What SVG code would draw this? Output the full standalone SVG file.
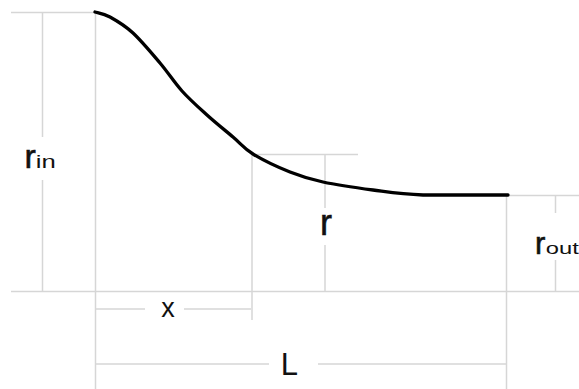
<svg xmlns="http://www.w3.org/2000/svg" width="579" height="389" viewBox="0 0 579 389">
<style>
.g{stroke:#d6d6d6;stroke-width:1.5;fill:none}
.t{font-family:"Liberation Sans",Arial,sans-serif;fill:#111}
.b{stroke:#111;stroke-width:0.6}
</style>
<rect width="579" height="389" fill="#fff"/>
<g id="guides">
<line class="g" x1="11" y1="12.5" x2="95" y2="12.5"/>
<line class="g" x1="42.5" y1="13" x2="42.5" y2="137"/>
<line class="g" x1="42.5" y1="180" x2="42.5" y2="291.5"/>
<line class="g" x1="95.5" y1="12" x2="95.5" y2="389"/>
<line class="g" x1="11" y1="291.5" x2="579" y2="291.5"/>
<line class="g" x1="252" y1="154.5" x2="358" y2="154.5"/>
<line class="g" x1="252" y1="154" x2="252" y2="320"/>
<line class="g" x1="325" y1="155" x2="325" y2="208"/>
<line class="g" x1="325" y1="245" x2="325" y2="291.5"/>
<line class="g" x1="506.5" y1="195" x2="506.5" y2="389"/>
<line class="g" x1="508" y1="195.5" x2="579" y2="195.5"/>
<line class="g" x1="555.5" y1="196" x2="555.5" y2="213"/>
<line class="g" x1="555.5" y1="260" x2="555.5" y2="291.5"/>
<line class="g" x1="96" y1="309" x2="145" y2="309"/>
<line class="g" x1="184" y1="309" x2="251" y2="309"/>
<line class="g" x1="96" y1="364" x2="269" y2="364"/>
<line class="g" x1="318" y1="364" x2="507" y2="364"/>
</g>
<g id="curve">
<path d="M95,12 C97.5,12.8 103.7,13.5 110,17 C116.3,20.5 124.7,25.3 133,33 C141.3,40.7 151.8,53.3 160,63 C168.2,72.7 174.2,82.3 182,91 C189.8,99.7 198.5,107.3 207,115 C215.5,122.7 225.3,130.5 233,137 C240.7,143.5 243.5,148.2 253,154 C262.5,159.8 278.3,167.3 290,172 C301.7,176.7 309.2,179 323,182 C336.8,185 356.3,187.8 373,190 C389.7,192.2 400.5,194.2 423,195 L508,195" fill="none" stroke="#000" stroke-width="3.3" stroke-linecap="round"/>
</g>
<g id="labels">
<text class="t" x="24.5" y="167.5" font-size="34"><tspan class="b">r</tspan><tspan font-size="18" textLength="20" lengthAdjust="spacingAndGlyphs">in</tspan></text>
<text class="t b" x="320" y="235" font-size="36">r</text>
<text class="t" x="535" y="254" font-size="31"><tspan class="b">r</tspan><tspan dx="0.5" font-size="17" textLength="33" lengthAdjust="spacingAndGlyphs">out</tspan></text>
<text class="t" x="168" y="317" font-size="27" text-anchor="middle">x</text>
<text class="t" x="280.7" y="375" font-size="31">L</text>
</g>
</svg>
